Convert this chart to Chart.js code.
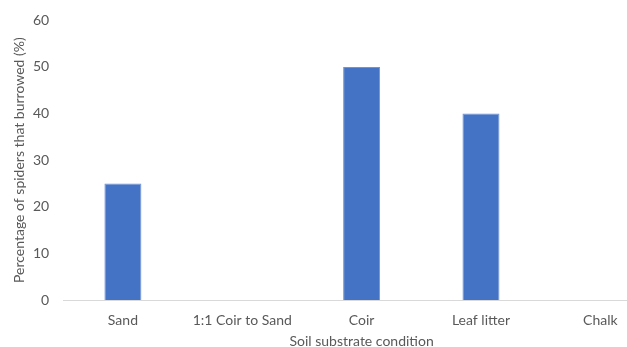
<!DOCTYPE html>
<html>
<head>
<meta charset="utf-8">
<script src="https://cdn.jsdelivr.net/npm/chart.js@4"></script>
<style>
  html, body { margin: 0; padding: 0; background: #fff; overflow: hidden; }
  #wrap { position: relative; width: 664px; height: 347px; }
</style>
</head>
<body>
<div id="wrap"><canvas id="c"></canvas></div>
<script>
// Burrowing rate per soil substrate
const categories = ['Sand', '1:1 Coir to Sand', 'Coir', 'Leaf litter', 'Chalk'];
const burrowedPct = [25, 0, 50, 40, 0];
const yTicks = [0, 10, 20, 30, 40, 50, 60];

const textColor = '#595959';
const fontFamily = 'Lato, "Open Sans", sans-serif';

new Chart(document.getElementById('c'), {
  type: 'bar',
  data: {
    labels: categories,
    datasets: [{
      data: burrowedPct,
      backgroundColor: '#4472C4',
      borderColor: '#6F93D6',
      borderWidth: 1,
      categoryPercentage: 1,
      barPercentage: 0.31
    }]
  },
  options: {
    responsive: true,
    maintainAspectRatio: false,
    animation: false,
    layout: { padding: { top: 4, right: 4, left: 7, bottom: 0 } },
    plugins: { legend: { display: false }, tooltip: { enabled: false } },
    scales: {
      x: {
        grid: { display: false, drawTicks: false, tickLength: 0 },
        border: { display: true, color: '#D9D9D9', width: 1 },
        ticks: { color: textColor, font: { family: fontFamily, size: 14 }, padding: 11.6, maxRotation: 0 },
        title: { display: true, text: 'Soil substrate condition', color: textColor, font: { family: fontFamily, size: 14 }, padding: { top: -7.4, bottom: -2.4 } }
      },
      y: {
        min: 0,
        max: 60,
        afterBuildTicks: (axis) => { axis.ticks = yTicks.map(v => ({ value: v })); },
        grid: { display: false, drawTicks: false, tickLength: 0 },
        border: { display: false },
        ticks: { color: textColor, font: { family: fontFamily, size: 14, lineHeight: 0.9 }, padding: 14 },
        title: { display: true, text: 'Percentage of spiders that burrowed (%)', color: textColor, font: { family: fontFamily, size: 14 }, padding: { top: 3.6, bottom: -8.4 } }
      }
    }
  }
});
</script>
</body>
</html>
